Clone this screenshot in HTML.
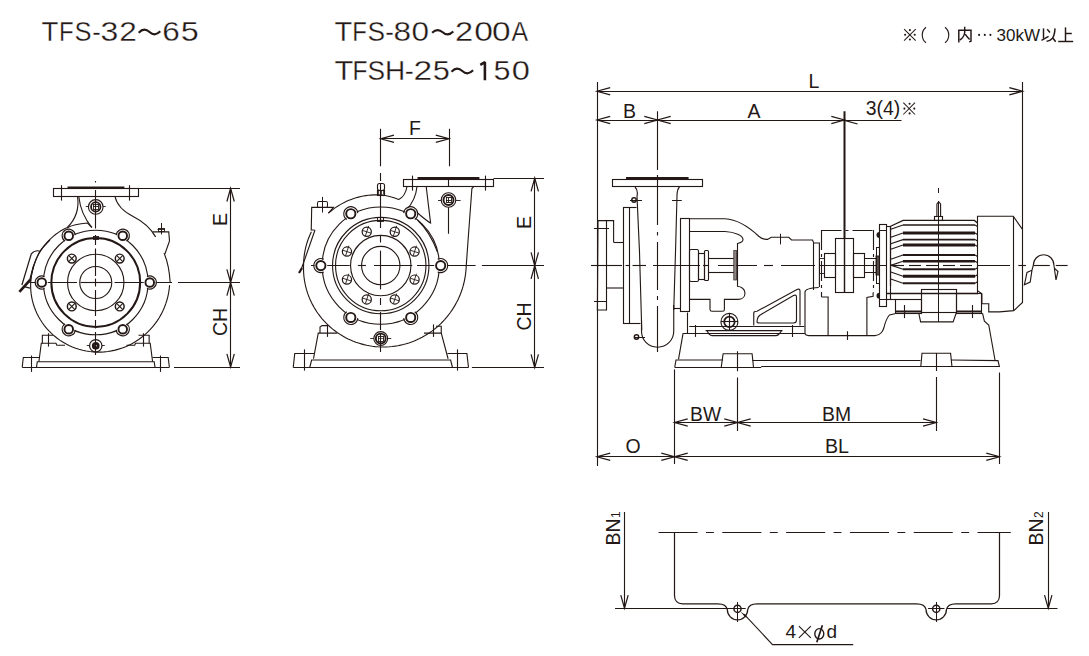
<!DOCTYPE html>
<html><head><meta charset="utf-8"><style>
html,body{margin:0;padding:0;background:#fff;}
body{width:1089px;height:656px;overflow:hidden;}
svg{display:block;}
svg text{font-family:"Liberation Sans",sans-serif;fill:#231815;stroke:none;}
</style></head><body>
<svg width="1089" height="656" viewBox="0 0 1089 656">
<g fill="none" stroke="#231815" stroke-linecap="butt" stroke-width="1.1" stroke-linejoin="miter">
<text transform="translate(41.58 41.20) scale(1.020 1.000)" font-size="27" style="stroke:#fff;stroke-width:0.3px">T</text>
<text transform="translate(58.93 41.20) scale(0.886 1.000)" font-size="27" style="stroke:#fff;stroke-width:0.3px">F</text>
<text transform="translate(74.46 41.20) scale(0.944 1.000)" font-size="27" style="stroke:#fff;stroke-width:0.3px">S</text>
<text transform="translate(92.16 41.20) scale(0.943 1.000)" font-size="27" style="stroke:#fff;stroke-width:0.3px">-</text>
<text transform="translate(100.52 41.20) scale(1.185 1.000)" font-size="27" style="stroke:#fff;stroke-width:0.3px">3</text>
<text transform="translate(119.13 41.20) scale(1.169 1.000)" font-size="27" style="stroke:#fff;stroke-width:0.3px">2</text>
<text transform="translate(162.33 41.20) scale(1.169 1.000)" font-size="27" style="stroke:#fff;stroke-width:0.3px">6</text>
<text transform="translate(180.70 41.20) scale(1.200 1.000)" font-size="27" style="stroke:#fff;stroke-width:0.3px">5</text>
<path d="M138.70 32.63 C143.02 28.22 146.26 29.06 149.50 32.00 S155.98 35.78 160.30 31.37" stroke-width="2.13" />
<text transform="translate(334.43 41.20) scale(1.073 1.000)" font-size="27" style="stroke:#fff;stroke-width:0.3px">T</text>
<text transform="translate(352.13 41.20) scale(0.886 1.000)" font-size="27" style="stroke:#fff;stroke-width:0.3px">F</text>
<text transform="translate(367.62 41.20) scale(0.975 1.000)" font-size="27" style="stroke:#fff;stroke-width:0.3px">S</text>
<text transform="translate(385.24 41.20) scale(0.957 1.000)" font-size="27" style="stroke:#fff;stroke-width:0.3px">-</text>
<text transform="translate(393.53 41.20) scale(1.169 1.000)" font-size="27" style="stroke:#fff;stroke-width:0.3px">8</text>
<text transform="translate(411.43 41.20) scale(1.169 1.000)" font-size="27" style="stroke:#fff;stroke-width:0.3px">0</text>
<text transform="translate(455.09 41.20) scale(1.208 1.000)" font-size="27" style="stroke:#fff;stroke-width:0.3px">2</text>
<text transform="translate(474.25 41.20) scale(1.246 1.000)" font-size="27" style="stroke:#fff;stroke-width:0.3px">0</text>
<text transform="translate(491.96 41.20) scale(1.238 1.000)" font-size="27" style="stroke:#fff;stroke-width:0.3px">0</text>
<text transform="translate(511.40 41.20) scale(0.922 1.000)" font-size="27" style="stroke:#fff;stroke-width:0.3px">A</text>
<path d="M432.10 32.80 C436.34 28.60 439.52 29.40 442.70 32.20 S449.06 35.80 453.30 31.60" stroke-width="2.13" />
<text transform="translate(334.46 80.30) scale(1.140 1.000)" font-size="27" style="stroke:#fff;stroke-width:0.3px">T</text>
<text transform="translate(352.39 80.30) scale(0.907 1.000)" font-size="27" style="stroke:#fff;stroke-width:0.3px">F</text>
<text transform="translate(367.42 80.30) scale(0.975 1.000)" font-size="27" style="stroke:#fff;stroke-width:0.3px">S</text>
<text transform="translate(385.03 80.30) scale(1.037 1.000)" font-size="27" style="stroke:#fff;stroke-width:0.3px">H</text>
<text transform="translate(404.80 80.30) scale(1.000 1.000)" font-size="27" style="stroke:#fff;stroke-width:0.3px">-</text>
<text transform="translate(413.55 80.30) scale(1.246 1.000)" font-size="27" style="stroke:#fff;stroke-width:0.3px">2</text>
<text transform="translate(432.86 80.30) scale(1.138 1.000)" font-size="27" style="stroke:#fff;stroke-width:0.3px">5</text>
<text transform="translate(493.57 80.30) scale(1.131 1.000)" font-size="27" style="stroke:#fff;stroke-width:0.3px">5</text>
<text transform="translate(511.79 80.30) scale(1.208 1.000)" font-size="27" style="stroke:#fff;stroke-width:0.3px">0</text>
<path d="M451.50 71.63 C455.82 67.22 459.06 68.06 462.30 71.00 S468.78 74.78 473.10 70.37" stroke-width="2.13" />
<path d="M480.3 64.9 C482 64 483.5 63 484.9 62.2 L484.9 80.2" stroke-width="2.58" stroke-linejoin="bevel"/>
<line x1="597.50" y1="82.00" x2="597.50" y2="466.00" stroke-width="1.12" />
<line x1="1022.50" y1="82.00" x2="1022.50" y2="229.00" stroke-width="1.12" />
<line x1="597.00" y1="91.50" x2="1022.50" y2="91.50" stroke-width="1.12" />
<path d="M610.20 87.55 L597.00 91.25 L610.20 94.95" stroke-width="1.23" />
<path d="M1009.30 94.95 L1022.50 91.25 L1009.30 87.55" stroke-width="1.23" />
<text x="814.00" y="87.50" font-size="19.5" text-anchor="middle" >L</text>
<line x1="597.00" y1="120.50" x2="657.50" y2="120.50" stroke-width="1.12" />
<path d="M610.20 116.30 L597.00 120.00 L610.20 123.70" stroke-width="1.23" />
<path d="M644.30 123.70 L657.50 120.00 L644.30 116.30" stroke-width="1.23" />
<path d="M670.70 116.30 L657.50 120.00 L670.70 123.70" stroke-width="1.23" />
<path d="M831.30 123.70 L844.50 120.00 L831.30 116.30" stroke-width="1.23" />
<line x1="657.50" y1="120.50" x2="844.50" y2="120.50" stroke-width="1.12" />
<line x1="844.50" y1="120.50" x2="901.50" y2="120.50" stroke-width="1.12" />
<path d="M844.50 120.30 L857.60 124.00" stroke-width="1.23" />
<text x="629.50" y="118.00" font-size="19.5" text-anchor="middle" >B</text>
<text x="754.00" y="118.00" font-size="19.5" text-anchor="middle" >A</text>
<text x="865.80" y="115.30" font-size="19.5" text-anchor="start" textLength="34.5" lengthAdjust="spacingAndGlyphs" >3(4)</text>
<rect x="53.50" y="188.50" width="85.00" height="8.00" stroke-width="1.12" />
<line x1="67.50" y1="187.60" x2="124.40" y2="187.60" stroke-width="2.02" />
<line x1="61.50" y1="185.20" x2="61.50" y2="200.60" stroke-width="1.12" />
<line x1="129.50" y1="185.20" x2="129.50" y2="200.60" stroke-width="1.12" />
<line x1="138.10" y1="188.50" x2="240.00" y2="188.50" stroke-width="1.12" />
<line x1="230.50" y1="188.30" x2="230.50" y2="282.50" stroke-width="1.12" />
<path d="M234.30 201.50 L230.60 188.30 L226.90 201.50" stroke-width="1.23" />
<path d="M226.90 269.30 L230.60 282.50 L234.30 269.30" stroke-width="1.23" />
<line x1="230.50" y1="282.50" x2="230.50" y2="367.00" stroke-width="1.12" />
<path d="M234.30 295.70 L230.60 282.50 L226.90 295.70" stroke-width="1.23" />
<path d="M226.90 353.80 L230.60 367.00 L234.30 353.80" stroke-width="1.23" />
<line x1="174.00" y1="367.50" x2="240.00" y2="367.50" stroke-width="1.12" />
<text x="226.50" y="219.50" font-size="19.5" text-anchor="middle" transform="rotate(-90 226.50 219.50)" >E</text>
<text x="226.50" y="322.00" font-size="19.5" text-anchor="middle" transform="rotate(-90 226.50 322.00)" >CH</text>
<line x1="29.40" y1="282.50" x2="77.00" y2="282.50" stroke-width="1.12" />
<line x1="80.50" y1="282.50" x2="111.00" y2="282.50" stroke-width="1.12" />
<line x1="114.50" y1="282.50" x2="172.00" y2="282.50" stroke-width="1.12" />
<line x1="178.00" y1="282.50" x2="240.00" y2="282.50" stroke-width="1.12" />
<line x1="95.50" y1="190.00" x2="95.50" y2="228.50" stroke-width="1.12" />
<line x1="95.50" y1="235.00" x2="95.50" y2="245.00" stroke-width="1.12" />
<line x1="95.50" y1="248.50" x2="95.50" y2="276.00" stroke-width="1.12" />
<line x1="95.50" y1="278.50" x2="95.50" y2="286.50" stroke-width="1.12" />
<line x1="95.50" y1="290.00" x2="95.50" y2="316.00" stroke-width="1.12" />
<line x1="95.50" y1="320.00" x2="95.50" y2="328.50" stroke-width="1.12" />
<line x1="95.50" y1="332.00" x2="95.50" y2="355.00" stroke-width="1.12" />
<line x1="95.50" y1="181.00" x2="95.50" y2="182.50" stroke-width="1.12" />
<circle cx="95.75" cy="206.90" r="7.30" stroke-width="1.12" />
<circle cx="95.75" cy="206.90" r="4.70" stroke-width="1.79" />
<rect x="93.50" y="204.50" width="5.00" height="5.00" stroke-width="0.90" />
<line x1="93.25" y1="206.50" x2="98.25" y2="206.50" stroke-width="0.90" />
<line x1="85.75" y1="206.50" x2="88.45" y2="206.50" stroke-width="0.90" />
<line x1="103.05" y1="206.50" x2="105.75" y2="206.50" stroke-width="0.90" />
<path d="M77.5 196.5 C79 206 77 218 66.9 228" stroke-width="1.12" />
<path d="M78.8 196.5 C80 208 84 218 91.9 227.5" stroke-width="1.12" />
<path d="M66.9 228 C72 225 80 223.5 87.5 223 L91.9 227.5" stroke-width="1.12" />
<path d="M66.64 227.76 L63.74 229.23 L60.91 230.85 L58.17 232.63 L55.51 234.55 L52.96 236.61 L50.51 238.81 L48.17 241.14 L45.96 243.60 L43.87 246.17 L41.91 248.86 L40.09 251.65 L38.42 254.54 L36.90 257.52 L35.53 260.58 L34.32 263.72 L33.28 266.92 L32.41 270.19 L31.70 273.50 L31.17 276.85 L30.81 280.23 L30.64 283.64 L30.64 287.05 L30.82 290.47 L31.17 293.89 L31.71 297.28 L32.43 300.66 L33.33 303.99 L34.40 307.29 L35.65 310.53 L37.07 313.70 L38.65 316.81 L40.40 319.83 L42.31 322.77 L44.38 325.60 L46.60 328.34 L48.96 330.95 L51.46 333.45 L54.10 335.81 L56.86 338.04 L59.74 340.13 L62.73 342.06 L65.83 343.84 L69.02 345.46 L72.31 346.91 L75.67 348.19 L79.09 349.30 L82.59 350.23 L86.13 350.97 L89.71 351.53 L93.33 351.90 L96.96 352.08 L100.61 352.07 L104.27 351.87 L107.91 351.47 L111.54 350.89 L115.14 350.11 L118.70 349.14 L122.21 347.99 L125.66 346.65 L129.05 345.13 L132.36 343.42 L135.58 341.55 L138.70 339.50 L141.72 337.29 L144.63 334.92 L147.41 332.39 L150.07 329.72 L152.58 326.90 L154.95 323.95 L157.16 320.87 L159.22 317.68 L161.10 314.38 L162.82 310.97 L164.36 307.47 L165.71 303.89 L166.88 300.24 L167.86 296.52 L168.64 292.74 L169.22 288.93 L169.61 285.08" stroke-width="1.12" />
<path d="M115 196.5 C117 206 124 212 134 217 C142 221 150 227 155.6 236.9" stroke-width="1.12" />
<path d="M153.00 231.90 L168.75 231.90 L169.50 241.00 L165.00 253.70" stroke-width="1.12" />
<path d="M164 253 C168 262 169.5 272 170.2 282.5" stroke-width="1.12" />
<line x1="161.50" y1="223.00" x2="161.50" y2="234.40" stroke-width="1.01" />
<line x1="157.50" y1="229.50" x2="165.00" y2="229.50" stroke-width="0.90" />
<rect x="158.50" y="228.50" width="6.00" height="3.00" stroke-width="0.90" />
<circle cx="95.75" cy="282.50" r="52.30" stroke-width="1.12" />
<circle cx="149.75" cy="282.50" r="6.00" stroke-width="0.00" fill="#fff" stroke="none"/>
<path d="M146.96 276.52 A6.6 6.6 0 1 1 146.96 288.48" stroke-width="1.12" />
<circle cx="149.75" cy="282.50" r="4.30" stroke-width="1.90" />
<circle cx="122.75" cy="329.27" r="6.00" stroke-width="0.00" fill="#fff" stroke="none"/>
<path d="M126.54 323.86 A6.6 6.6 0 1 1 116.18 329.84" stroke-width="1.12" />
<circle cx="122.75" cy="329.27" r="4.30" stroke-width="1.90" />
<circle cx="68.75" cy="329.27" r="6.00" stroke-width="0.00" fill="#fff" stroke="none"/>
<path d="M75.32 329.84 A6.6 6.6 0 1 1 64.96 323.86" stroke-width="1.12" />
<circle cx="68.75" cy="329.27" r="4.30" stroke-width="1.90" />
<circle cx="41.75" cy="282.50" r="6.00" stroke-width="0.00" fill="#fff" stroke="none"/>
<path d="M44.54 288.48 A6.6 6.6 0 1 1 44.54 276.52" stroke-width="1.12" />
<circle cx="41.75" cy="282.50" r="4.30" stroke-width="1.90" />
<circle cx="68.75" cy="235.73" r="6.00" stroke-width="0.00" fill="#fff" stroke="none"/>
<path d="M64.96 241.14 A6.6 6.6 0 1 1 75.32 235.16" stroke-width="1.12" />
<circle cx="68.75" cy="235.73" r="4.30" stroke-width="1.90" />
<circle cx="122.75" cy="235.73" r="6.00" stroke-width="0.00" fill="#fff" stroke="none"/>
<path d="M116.18 235.16 A6.6 6.6 0 1 1 126.54 241.14" stroke-width="1.12" />
<circle cx="122.75" cy="235.73" r="4.30" stroke-width="1.90" />
<circle cx="95.75" cy="282.50" r="44.40" stroke-width="2.02" />
<circle cx="95.75" cy="282.50" r="28.20" stroke-width="1.12" />
<circle cx="95.75" cy="282.50" r="16.00" stroke-width="1.12" />
<circle cx="119.72" cy="306.47" r="4.40" stroke-width="1.46" />
<line x1="116.62" y1="303.37" x2="122.82" y2="309.57" stroke-width="1.12" />
<line x1="116.62" y1="309.57" x2="122.82" y2="303.37" stroke-width="1.12" />
<circle cx="71.78" cy="306.47" r="4.40" stroke-width="1.46" />
<line x1="68.68" y1="303.37" x2="74.88" y2="309.57" stroke-width="1.12" />
<line x1="68.68" y1="309.57" x2="74.88" y2="303.37" stroke-width="1.12" />
<circle cx="71.78" cy="258.53" r="4.40" stroke-width="1.46" />
<line x1="68.68" y1="255.43" x2="74.88" y2="261.63" stroke-width="1.12" />
<line x1="68.68" y1="261.63" x2="74.88" y2="255.43" stroke-width="1.12" />
<circle cx="119.72" cy="258.53" r="4.40" stroke-width="1.46" />
<line x1="116.62" y1="255.43" x2="122.82" y2="261.63" stroke-width="1.12" />
<line x1="116.62" y1="261.63" x2="122.82" y2="255.43" stroke-width="1.12" />
<rect x="93.50" y="236.50" width="5.00" height="3.00" stroke-width="0.90" />
<path d="M40 251.3 C38 250.5 34 250.5 31.3 253.8 L21.9 285" stroke-width="1.23" />
<path d="M33.75 265 L30 278.75" stroke-width="1.12" />
<path d="M50 240 C45 245 42 248 40 251.3 C36 258 33 266 30.6 280" stroke-width="1.12" />
<line x1="30.60" y1="279.40" x2="19.40" y2="291.90" stroke-width="2.69" />
<path d="M25.00 286.90 L30.00 288.10" stroke-width="1.12" />
<line x1="22.20" y1="367.50" x2="169.40" y2="367.50" stroke-width="1.12" />
<path d="M22.20 367.20 L23.30 357.50 L39.50 357.50" stroke-width="1.12" />
<path d="M169.40 367.20 L168.20 357.50 L152.50 357.50" stroke-width="1.12" />
<path d="M38.90 361.70 L41.30 343.20 L56.00 343.20 L56.80 345.20 L65.00 345.20" stroke-width="1.12" />
<path d="M42.35 343.20 L42.35 335.30 L53.00 335.30" stroke-width="1.12" />
<path d="M152.60 361.70 L150.20 343.20 L135.50 343.20 L134.70 345.20 L126.50 345.20" stroke-width="1.12" />
<path d="M149.15 343.20 L149.15 335.30 L138.50 335.30" stroke-width="1.12" />
<path d="M36.50 367.20 L37.30 361.70 L154.20 361.70 L155.00 367.20" stroke-width="1.12" />
<line x1="31.50" y1="355.50" x2="31.50" y2="371.90" stroke-width="1.12" />
<line x1="160.50" y1="355.50" x2="160.50" y2="371.90" stroke-width="1.12" />
<line x1="48.50" y1="333.20" x2="48.50" y2="346.60" stroke-width="1.12" />
<line x1="143.50" y1="333.20" x2="143.50" y2="346.60" stroke-width="1.12" />
<circle cx="95.75" cy="345.80" r="6.20" stroke-width="1.23" />
<circle cx="95.75" cy="345.80" r="2.40" stroke-width="2.91" />
<line x1="86.75" y1="345.50" x2="89.55" y2="345.50" stroke-width="0.90" />
<line x1="101.95" y1="345.50" x2="104.75" y2="345.50" stroke-width="0.90" />
<line x1="380.50" y1="128.75" x2="380.50" y2="166.25" stroke-width="1.12" />
<line x1="449.50" y1="128.75" x2="449.50" y2="166.25" stroke-width="1.12" />
<line x1="380.75" y1="138.50" x2="449.00" y2="138.50" stroke-width="1.12" />
<path d="M393.95 135.05 L380.75 138.75 L393.95 142.45" stroke-width="1.23" />
<path d="M435.80 142.45 L449.00 138.75 L435.80 135.05" stroke-width="1.23" />
<text x="415.00" y="134.50" font-size="19.5" text-anchor="middle" >F</text>
<line x1="380.50" y1="173.00" x2="380.50" y2="181.00" stroke-width="1.12" />
<line x1="380.50" y1="184.00" x2="380.50" y2="195.00" stroke-width="1.12" />
<line x1="380.50" y1="195.00" x2="380.50" y2="228.00" stroke-width="1.12" />
<line x1="380.50" y1="235.00" x2="380.50" y2="242.50" stroke-width="1.12" />
<line x1="380.50" y1="250.60" x2="380.50" y2="289.40" stroke-width="1.12" />
<line x1="380.50" y1="298.00" x2="380.50" y2="305.00" stroke-width="1.12" />
<line x1="380.50" y1="312.00" x2="380.50" y2="330.00" stroke-width="1.12" />
<line x1="380.50" y1="334.00" x2="380.50" y2="352.00" stroke-width="1.12" />
<line x1="311.00" y1="265.50" x2="349.75" y2="265.50" stroke-width="1.12" />
<line x1="357.90" y1="265.50" x2="366.00" y2="265.50" stroke-width="1.12" />
<line x1="374.00" y1="265.50" x2="412.25" y2="265.50" stroke-width="1.12" />
<line x1="417.00" y1="265.50" x2="475.60" y2="265.50" stroke-width="1.12" />
<line x1="481.90" y1="265.50" x2="544.00" y2="265.50" stroke-width="1.12" />
<rect x="403.50" y="179.50" width="90.00" height="7.00" stroke-width="1.12" />
<line x1="417.50" y1="178.10" x2="479.40" y2="178.10" stroke-width="2.02" />
<line x1="448.50" y1="179.00" x2="448.50" y2="186.90" stroke-width="1.12" />
<line x1="412.50" y1="175.60" x2="412.50" y2="190.60" stroke-width="1.12" />
<line x1="485.50" y1="175.60" x2="485.50" y2="190.60" stroke-width="1.12" />
<line x1="493.50" y1="178.50" x2="544.00" y2="178.50" stroke-width="1.12" />
<line x1="534.50" y1="178.10" x2="534.50" y2="265.60" stroke-width="1.12" />
<path d="M538.45 191.30 L534.75 178.10 L531.05 191.30" stroke-width="1.23" />
<path d="M531.05 252.40 L534.75 265.60 L538.45 252.40" stroke-width="1.23" />
<line x1="534.50" y1="265.60" x2="534.50" y2="367.50" stroke-width="1.12" />
<path d="M538.45 278.80 L534.75 265.60 L531.05 278.80" stroke-width="1.23" />
<path d="M531.05 354.30 L534.75 367.50 L538.45 354.30" stroke-width="1.23" />
<line x1="471.90" y1="367.50" x2="544.00" y2="367.50" stroke-width="1.12" />
<text x="531.00" y="222.50" font-size="19.5" text-anchor="middle" transform="rotate(-90 531.00 222.50)" >E</text>
<text x="531.00" y="316.50" font-size="19.5" text-anchor="middle" transform="rotate(-90 531.00 316.50)" >CH</text>
<circle cx="448.50" cy="200.00" r="7.30" stroke-width="1.12" />
<circle cx="448.50" cy="200.00" r="5.00" stroke-width="1.90" />
<rect x="446.50" y="197.50" width="5.00" height="5.00" stroke-width="0.90" />
<line x1="446.00" y1="200.50" x2="451.00" y2="200.50" stroke-width="0.90" />
<line x1="448.50" y1="197.50" x2="448.50" y2="202.50" stroke-width="0.90" />
<line x1="438.00" y1="200.50" x2="441.20" y2="200.50" stroke-width="0.90" />
<line x1="455.80" y1="200.50" x2="460.60" y2="200.50" stroke-width="0.90" />
<line x1="448.50" y1="207.30" x2="448.50" y2="233.75" stroke-width="1.12" />
<path d="M311.36 231.76 L310.22 234.20 L309.17 236.68 L308.21 239.20 L307.33 241.74 L306.54 244.32 L305.84 246.92 L305.24 249.55 L304.72 252.19 L304.30 254.86 L303.97 257.53 L303.74 260.21 L303.60 262.91 L303.55 265.60 L303.50 268.30 L303.55 271.00 L303.70 273.70 L303.94 276.40 L304.27 279.09 L304.70 281.77 L305.22 284.43 L305.83 287.08 L306.54 289.71 L307.34 292.32 L308.23 294.90 L309.21 297.45 L310.29 299.97 L311.45 302.45 L312.69 304.89 L314.03 307.29 L315.45 309.65 L316.95 311.95 L318.53 314.21 L320.20 316.41 L321.94 318.55 L323.76 320.64 L325.65 322.66 L327.61 324.62 L329.64 326.50 L331.74 328.32 L333.91 330.07 L336.14 331.74 L338.42 333.34 L340.77 334.85 L343.16 336.29 L345.61 337.64 L348.11 338.91 L350.66 340.09 L353.24 341.18 L355.87 342.18 L358.53 343.09 L361.23 343.91 L363.95 344.63 L366.70 345.26 L369.48 345.79 L372.28 346.23 L375.09 346.57 L377.91 346.81 L380.75 346.95 L383.59 346.99 L386.44 346.94 L389.28 346.78 L392.12 346.52 L394.96 346.17 L397.78 345.71 L400.59 345.16 L403.38 344.51 L406.15 343.76 L408.89 342.91 L411.60 341.97 L414.29 340.93 L416.94 339.79 L419.55 338.57 L422.12 337.25 L424.64 335.84 L427.12 334.34 L429.54 332.76 L431.91 331.09 L434.23 329.33 L436.48 327.49 L438.67 325.58 L440.79 323.58 L442.85 321.51 L444.83 319.37 L446.74 317.16 L448.58 314.88 L450.33 312.53 L452.01 310.13 L453.60 307.66 L455.10 305.13 L456.52 302.56 L457.85 299.93 L459.08 297.25 L460.23 294.53 L461.28 291.76 L462.23 288.96 L463.08 286.13 L463.84 283.26 L464.50 280.37 L465.05 277.45 L465.51 274.51 L465.86 271.55 L466.11 268.58 L466.25 265.60" stroke-width="1.12" />
<path d="M383.21 195.20 L380.75 195.00 L378.28 194.89 L375.80 194.86 L373.32 194.92 L370.84 195.07 L368.36 195.31 L365.88 195.63 L363.41 196.04 L360.95 196.54 L358.50 197.12 L356.07 197.80 L353.66 198.55 L351.28 199.40 L348.91 200.33 L346.58 201.34 L344.28 202.44 L342.02 203.62 L339.79 204.88 L337.61 206.22 L335.46 207.64 L333.37 209.13 L331.32 210.71 L329.33 212.35 L328.35 213.20" stroke-width="1.12" />
<path d="M466.25 265.6 L468.1 240 L471.9 188.5 L473.5 187" stroke-width="1.12" />
<path d="M381 195 C388 195.5 394 197.5 398.75 199.4 C404 197 406 192 406.9 187" stroke-width="1.12" />
<path d="M416.9 187 C416 197 412 204 406.25 210" stroke-width="1.12" />
<path d="M426.25 187 L430.6 223.1 C428 222 420 215 414 210" stroke-width="1.12" />
<path d="M417.5 220 C426 228 433 240 437.5 252" stroke-width="1.12" />
<rect x="377.50" y="183.50" width="7.00" height="7.00" stroke-width="1.12" rx="2"/>
<rect x="377.50" y="190.50" width="7.00" height="5.00" stroke-width="1.12" />
<line x1="378.50" y1="190.50" x2="378.50" y2="194.60" stroke-width="0.78" />
<line x1="380.50" y1="190.50" x2="380.50" y2="194.60" stroke-width="0.78" />
<line x1="381.50" y1="190.50" x2="381.50" y2="194.60" stroke-width="0.78" />
<line x1="383.50" y1="190.50" x2="383.50" y2="194.60" stroke-width="0.78" />
<path d="M328.40 213.20 L333.50 207.40 L311.70 207.40 L311.25 230.00 L314.50 230.00" stroke-width="1.12" />
<line x1="322.50" y1="196.90" x2="322.50" y2="212.50" stroke-width="1.01" />
<rect x="317.50" y="201.50" width="10.00" height="6.00" stroke-width="1.01" rx="1.5"/>
<line x1="315.00" y1="230.00" x2="301.00" y2="270.00" stroke-width="1.12" />
<line x1="299.00" y1="273.00" x2="302.00" y2="268.00" stroke-width="2.24" />
<circle cx="380.75" cy="265.60" r="58.60" stroke-width="1.12" />
<circle cx="440.65" cy="265.60" r="6.40" stroke-width="0.00" fill="#fff" stroke="none"/>
<path d="M437.69 259.26 A7.0 7.0 0 1 1 437.69 271.94" stroke-width="1.12" />
<circle cx="440.65" cy="265.60" r="4.60" stroke-width="1.90" />
<circle cx="410.70" cy="317.47" r="6.40" stroke-width="0.00" fill="#fff" stroke="none"/>
<path d="M414.72 311.74 A7.0 7.0 0 1 1 403.73 318.09" stroke-width="1.12" />
<circle cx="410.70" cy="317.47" r="4.60" stroke-width="1.90" />
<circle cx="350.80" cy="317.47" r="6.40" stroke-width="0.00" fill="#fff" stroke="none"/>
<path d="M357.77 318.09 A7.0 7.0 0 1 1 346.78 311.74" stroke-width="1.12" />
<circle cx="350.80" cy="317.47" r="4.60" stroke-width="1.90" />
<circle cx="320.85" cy="265.60" r="6.40" stroke-width="0.00" fill="#fff" stroke="none"/>
<path d="M323.81 271.94 A7.0 7.0 0 1 1 323.81 259.26" stroke-width="1.12" />
<circle cx="320.85" cy="265.60" r="4.60" stroke-width="1.90" />
<circle cx="350.80" cy="213.73" r="6.40" stroke-width="0.00" fill="#fff" stroke="none"/>
<path d="M346.78 219.46 A7.0 7.0 0 1 1 357.77 213.11" stroke-width="1.12" />
<circle cx="350.80" cy="213.73" r="4.60" stroke-width="1.90" />
<circle cx="410.70" cy="213.73" r="6.40" stroke-width="0.00" fill="#fff" stroke="none"/>
<path d="M403.73 213.11 A7.0 7.0 0 1 1 414.72 219.46" stroke-width="1.12" />
<circle cx="410.70" cy="213.73" r="4.60" stroke-width="1.90" />
<circle cx="380.75" cy="265.60" r="48.20" stroke-width="1.12" />
<circle cx="380.75" cy="265.60" r="45.20" stroke-width="1.12" />
<circle cx="380.75" cy="265.60" r="30.20" stroke-width="1.12" />
<circle cx="380.75" cy="265.60" r="19.20" stroke-width="1.12" />
<rect x="377.50" y="217.50" width="6.00" height="4.00" stroke-width="0.90" />
<circle cx="414.56" cy="279.61" r="4.60" stroke-width="1.23" />
<line x1="413.20" y1="283.79" x2="416.48" y2="273.71" stroke-width="0.90" />
<line x1="410.38" y1="278.25" x2="418.75" y2="280.97" stroke-width="0.90" />
<circle cx="394.76" cy="299.41" r="4.60" stroke-width="1.23" />
<line x1="393.40" y1="303.60" x2="396.67" y2="293.52" stroke-width="0.90" />
<line x1="390.57" y1="298.05" x2="398.94" y2="300.77" stroke-width="0.90" />
<circle cx="366.74" cy="299.41" r="4.60" stroke-width="1.23" />
<line x1="365.38" y1="303.60" x2="368.66" y2="293.52" stroke-width="0.90" />
<line x1="362.56" y1="298.05" x2="370.93" y2="300.77" stroke-width="0.90" />
<circle cx="346.94" cy="279.61" r="4.60" stroke-width="1.23" />
<line x1="345.58" y1="283.79" x2="348.85" y2="273.71" stroke-width="0.90" />
<line x1="342.75" y1="278.25" x2="351.12" y2="280.97" stroke-width="0.90" />
<circle cx="346.94" cy="251.59" r="4.60" stroke-width="1.23" />
<line x1="345.58" y1="255.78" x2="348.85" y2="245.70" stroke-width="0.90" />
<line x1="342.75" y1="250.23" x2="351.12" y2="252.95" stroke-width="0.90" />
<circle cx="366.74" cy="231.79" r="4.60" stroke-width="1.23" />
<line x1="365.38" y1="235.97" x2="368.66" y2="225.89" stroke-width="0.90" />
<line x1="362.56" y1="230.43" x2="370.93" y2="233.15" stroke-width="0.90" />
<circle cx="394.76" cy="231.79" r="4.60" stroke-width="1.23" />
<line x1="393.40" y1="235.97" x2="396.67" y2="225.89" stroke-width="0.90" />
<line x1="390.57" y1="230.43" x2="398.94" y2="233.15" stroke-width="0.90" />
<circle cx="414.56" cy="251.59" r="4.60" stroke-width="1.23" />
<line x1="413.20" y1="255.78" x2="416.48" y2="245.70" stroke-width="0.90" />
<line x1="410.38" y1="250.23" x2="418.75" y2="252.95" stroke-width="0.90" />
<path d="M293.25 367.50 L294.75 353.50 L314.10 353.50" stroke-width="1.12" />
<path d="M468.50 367.50 L466.90 353.50 L447.50 353.50" stroke-width="1.12" />
<line x1="293.25" y1="367.50" x2="468.50" y2="367.50" stroke-width="1.12" />
<path d="M313.50 358.75 L318.25 333.10 L337.25 333.10" stroke-width="1.12" />
<path d="M448.10 358.75 L441.25 333.10 L424.00 333.10" stroke-width="1.12" />
<path d="M309.75 367.50 L311.60 360.00 L450.60 360.00 L452.50 367.50" stroke-width="1.12" />
<line x1="304.50" y1="349.40" x2="304.50" y2="370.60" stroke-width="1.12" />
<line x1="457.50" y1="349.40" x2="457.50" y2="370.60" stroke-width="1.12" />
<path d="M320.00 333.10 L320.00 327.00 L322.00 325.60 L328.00 325.60" stroke-width="1.12" />
<path d="M441.25 333.10 L441.25 326.25 L436.00 326.25" stroke-width="1.12" />
<line x1="327.50" y1="324.40" x2="327.50" y2="336.90" stroke-width="1.12" />
<line x1="433.50" y1="324.40" x2="433.50" y2="336.90" stroke-width="1.12" />
<circle cx="380.75" cy="338.50" r="6.90" stroke-width="1.12" />
<circle cx="380.75" cy="338.50" r="4.90" stroke-width="1.90" />
<rect x="378.50" y="336.50" width="5.00" height="5.00" stroke-width="0.90" />
<line x1="378.25" y1="338.50" x2="383.25" y2="338.50" stroke-width="0.67" />
<line x1="370.25" y1="338.50" x2="373.85" y2="338.50" stroke-width="0.90" />
<line x1="387.65" y1="338.50" x2="391.25" y2="338.50" stroke-width="0.90" />
<line x1="674.50" y1="369.40" x2="674.50" y2="464.00" stroke-width="1.12" />
<line x1="999.50" y1="372.50" x2="999.50" y2="464.00" stroke-width="1.12" />
<line x1="737.50" y1="351.25" x2="737.50" y2="371.25" stroke-width="1.12" />
<line x1="737.50" y1="377.50" x2="737.50" y2="431.00" stroke-width="1.12" />
<line x1="936.50" y1="353.00" x2="936.50" y2="371.00" stroke-width="1.12" />
<line x1="936.50" y1="377.00" x2="936.50" y2="431.00" stroke-width="1.12" />
<line x1="674.50" y1="422.50" x2="737.50" y2="422.50" stroke-width="1.12" />
<path d="M687.70 418.80 L674.50 422.50 L687.70 426.20" stroke-width="1.23" />
<path d="M724.30 426.20 L737.50 422.50 L724.30 418.80" stroke-width="1.23" />
<line x1="737.50" y1="422.50" x2="936.25" y2="422.50" stroke-width="1.12" />
<path d="M750.70 418.80 L737.50 422.50 L750.70 426.20" stroke-width="1.23" />
<path d="M923.05 426.20 L936.25 422.50 L923.05 418.80" stroke-width="1.23" />
<line x1="597.00" y1="456.50" x2="674.50" y2="456.50" stroke-width="1.12" />
<path d="M610.20 453.05 L597.00 456.75 L610.20 460.45" stroke-width="1.23" />
<path d="M661.30 460.45 L674.50 456.75 L661.30 453.05" stroke-width="1.23" />
<line x1="674.50" y1="456.50" x2="999.50" y2="456.50" stroke-width="1.12" />
<path d="M687.70 453.05 L674.50 456.75 L687.70 460.45" stroke-width="1.23" />
<path d="M986.30 460.45 L999.50 456.75 L986.30 453.05" stroke-width="1.23" />
<text x="705.60" y="420.60" font-size="19.5" text-anchor="middle" textLength="31" lengthAdjust="spacingAndGlyphs" >BW</text>
<text x="836.60" y="420.60" font-size="19.5" text-anchor="middle" textLength="29" lengthAdjust="spacingAndGlyphs" >BM</text>
<text x="633.00" y="453.00" font-size="19.5" text-anchor="middle" >O</text>
<text x="837.00" y="453.20" font-size="19.5" text-anchor="middle" textLength="24" lengthAdjust="spacingAndGlyphs" >BL</text>
<line x1="844.50" y1="111.25" x2="844.50" y2="238.00" stroke-width="2.02" />
<line x1="657.50" y1="111.25" x2="657.50" y2="170.00" stroke-width="1.12" />
<line x1="591.00" y1="265.50" x2="622.00" y2="265.50" stroke-width="1.12" />
<line x1="625.50" y1="265.50" x2="629.00" y2="265.50" stroke-width="1.12" />
<line x1="632.50" y1="265.50" x2="646.00" y2="265.50" stroke-width="1.12" />
<line x1="653.00" y1="265.50" x2="700.00" y2="265.50" stroke-width="1.12" />
<line x1="703.00" y1="265.50" x2="708.00" y2="265.50" stroke-width="1.12" />
<line x1="718.00" y1="265.50" x2="757.00" y2="265.50" stroke-width="1.12" />
<line x1="764.00" y1="265.50" x2="773.00" y2="265.50" stroke-width="1.12" />
<line x1="781.00" y1="265.50" x2="815.00" y2="265.50" stroke-width="1.12" />
<line x1="820.00" y1="265.50" x2="887.00" y2="265.50" stroke-width="1.12" />
<line x1="891.90" y1="265.50" x2="904.00" y2="265.50" stroke-width="1.12" />
<line x1="909.00" y1="265.50" x2="921.00" y2="265.50" stroke-width="1.12" />
<line x1="926.00" y1="265.50" x2="938.00" y2="265.50" stroke-width="1.12" />
<line x1="943.00" y1="265.50" x2="955.00" y2="265.50" stroke-width="1.12" />
<line x1="960.00" y1="265.50" x2="972.00" y2="265.50" stroke-width="1.12" />
<line x1="977.00" y1="265.50" x2="1010.00" y2="265.50" stroke-width="1.12" />
<line x1="1018.30" y1="265.50" x2="1026.00" y2="265.50" stroke-width="1.12" />
<line x1="1033.40" y1="265.50" x2="1049.80" y2="265.50" stroke-width="1.12" />
<line x1="1055.80" y1="265.50" x2="1067.60" y2="265.50" stroke-width="1.12" />
<line x1="657.50" y1="175.00" x2="657.50" y2="225.00" stroke-width="1.12" />
<line x1="657.50" y1="232.00" x2="657.50" y2="235.50" stroke-width="1.12" />
<line x1="657.50" y1="242.00" x2="657.50" y2="290.00" stroke-width="1.12" />
<line x1="657.50" y1="296.00" x2="657.50" y2="300.00" stroke-width="1.12" />
<line x1="657.50" y1="306.00" x2="657.50" y2="352.00" stroke-width="1.12" />
<rect x="612.50" y="179.50" width="90.00" height="7.00" stroke-width="1.12" />
<line x1="626.00" y1="178.10" x2="688.60" y2="178.10" stroke-width="2.02" />
<path d="M635 187 C637 189 638 192 637 196 L639.5 252 L641.75 330" stroke-width="1.12" />
<path d="M679.5 187 C677.5 189 677 192 677 196 L675.5 252 L673.75 310" stroke-width="1.12" />
<path d="M641.5 320 L641.5 331 C641.5 340 648 347.2 657.5 347.2 C667 347.2 673.75 340 673.75 331 L673.75 305" stroke-width="1.12" />
<line x1="630.00" y1="200.50" x2="642.00" y2="200.50" stroke-width="1.01" />
<line x1="672.00" y1="200.50" x2="681.75" y2="200.50" stroke-width="1.01" />
<circle cx="636.50" cy="337.00" r="2.20" stroke-width="1.46" />
<line x1="634.00" y1="337.50" x2="645.00" y2="337.50" stroke-width="1.01" />
<circle cx="634.00" cy="200.00" r="2.20" stroke-width="1.46" />
<rect x="623.50" y="207.50" width="6.00" height="116.00" stroke-width="1.12" />
<line x1="629.90" y1="207.50" x2="636.50" y2="207.50" stroke-width="1.12" />
<line x1="629.90" y1="323.50" x2="640.50" y2="323.50" stroke-width="1.12" />
<path d="M613.60 242.25 L613.60 220.60 L598.00 220.60 L597.40 310.00 L606.50 310.00 L606.50 220.60" stroke-width="1.12" />
<path d="M606.50 288.00 L623.40 288.00" stroke-width="1.12" />
<line x1="613.60" y1="242.50" x2="623.60" y2="242.50" stroke-width="1.12" />
<line x1="594.00" y1="228.50" x2="609.00" y2="228.50" stroke-width="1.01" />
<line x1="594.00" y1="301.50" x2="607.00" y2="301.50" stroke-width="1.01" />
<rect x="680.50" y="218.50" width="9.00" height="93.00" stroke-width="1.12" />
<line x1="673.50" y1="308.50" x2="680.50" y2="308.50" stroke-width="1.12" />
<path d="M689.25 218.75 L725 218.75 C738 219.5 750 228 758.75 236.25 C762 239 765 239.6 767.5 239.4 L771.25 237.25 L788.75 237.25 L791.5 240 L812.5 240 L813.75 243 L819.4 243 L819.4 287" stroke-width="1.12" />
<line x1="813.50" y1="243.00" x2="813.50" y2="290.00" stroke-width="1.12" />
<line x1="780.50" y1="233.75" x2="780.50" y2="244.40" stroke-width="1.01" />
<path d="M689.25 231.5 L725 231.5 C735 232 743 235.5 743 239.5 C743 242 740 243 737.5 243.5 L737.5 286.25 C741 286.5 745 289 745 293 C745 297 742 299.4 738 299.4 L724.4 299.4 L724.4 309.5 C724.4 310.5 723.5 311.25 722.5 311.25 L712 311.25 C711 311.25 710 310.5 710 309.5 L710 299.4 L689.25 299.4" stroke-width="1.12" />
<rect x="689.50" y="249.50" width="9.00" height="32.00" stroke-width="1.12" rx="1.5"/>
<rect x="698.50" y="253.50" width="6.00" height="26.00" stroke-width="1.12" />
<rect x="704.50" y="250.50" width="4.00" height="30.00" stroke-width="1.12" rx="1"/>
<line x1="708.75" y1="258.50" x2="733.75" y2="258.50" stroke-width="1.12" />
<line x1="708.75" y1="272.50" x2="733.75" y2="272.50" stroke-width="1.12" />
<rect x="733.80" y="250.60" width="2.80" height="29.40" stroke-width="0.67" fill="#8c8482"/>
<circle cx="729.40" cy="321.90" r="8.50" stroke-width="1.12" />
<circle cx="729.40" cy="321.90" r="5.20" stroke-width="1.79" />
<line x1="729.50" y1="313.00" x2="729.50" y2="331.00" stroke-width="1.12" />
<line x1="721.00" y1="321.50" x2="738.00" y2="321.50" stroke-width="1.12" />
<line x1="687.50" y1="312.50" x2="687.50" y2="333.00" stroke-width="1.12" />
<line x1="689.25" y1="326.50" x2="753.75" y2="326.50" stroke-width="1.12" />
<line x1="753.75" y1="326.50" x2="804.40" y2="326.50" stroke-width="1.12" />
<path d="M705.6 330.6 L782.5 330.6 M707 330.6 C708 333 709 335.6 712 335.6 L776 335.6 C779 335.6 780 333 781.5 330.6" stroke-width="1.12" />
<line x1="695.50" y1="325.00" x2="695.50" y2="336.90" stroke-width="1.12" />
<line x1="792.50" y1="325.00" x2="792.50" y2="337.00" stroke-width="1.12" />
<path d="M753.75 325.6 L753.75 313 C753.75 311.5 755 311.25 757 311.25 L797 289.5 C799 288.5 800 289.5 800 291 L800 325.6" stroke-width="1.12" />
<path d="M757 322 C757 318 758 316 761 314.5 L793.5 295.5 C795.5 294.5 796.5 295.5 796.5 297 L796.5 320 C796.5 322 795.5 323 793.5 323 L760 323 C758 323 757 322.5 757 322 Z" stroke-width="1.12" />
<line x1="683.10" y1="333.50" x2="805.00" y2="333.50" stroke-width="1.12" />
<path d="M683.10 333.10 L678.50 359.40" stroke-width="1.12" />
<path d="M674.75 367.25 L676.00 360.00 L723.10 360.00" stroke-width="1.12" />
<line x1="674.75" y1="367.50" x2="761.25" y2="367.50" stroke-width="1.12" />
<line x1="761.25" y1="366.50" x2="999.50" y2="366.50" stroke-width="1.12" />
<path d="M721.25 367.25 L723.10 353.75 L752.10 353.75 L753.50 367.25" stroke-width="1.12" />
<line x1="752.50" y1="360.50" x2="920.50" y2="360.50" stroke-width="1.12" />
<path d="M920.75 367.00 L922.00 353.25 L950.60 353.25 L952.00 367.00" stroke-width="1.12" />
<path d="M951.00 360.00 L998.00 360.60 L999.50 367.00" stroke-width="1.12" />
<path d="M818.75 287.5 C810 288 805 289.5 805 292 L805 333.1 C805 335 806.5 335.6 808.75 335.6 L875 335.6 C880 335.6 883 331 884 327.5 C885 323 887 318 889.4 315 L895 313.75" stroke-width="1.12" />
<path d="M982.50 313.10 L984.40 321.25 L988.75 325.00 L995.00 360.00" stroke-width="1.12" />
<line x1="847.50" y1="331.25" x2="847.50" y2="340.00" stroke-width="1.12" />
<path d="M821.5 297 L828.1 297 L828.1 335.6" stroke-width="1.12" />
<path d="M873.1 292.5 L873.1 296.25 L866.9 297.5 L866.9 335.6" stroke-width="1.12" />
<line x1="821.50" y1="230.50" x2="873.10" y2="230.50" stroke-width="1.12" stroke-dasharray="20 4 3 4"/>
<line x1="821.50" y1="230.00" x2="821.50" y2="297.00" stroke-width="1.12" stroke-dasharray="20 4 3 4"/>
<line x1="873.50" y1="230.00" x2="873.50" y2="292.50" stroke-width="1.12" stroke-dasharray="20 4 3 4"/>
<rect x="835.50" y="238.50" width="18.00" height="54.00" stroke-width="1.12" />
<line x1="844.50" y1="238.00" x2="844.50" y2="292.50" stroke-width="1.46" />
<rect x="824.50" y="253.50" width="11.00" height="24.00" stroke-width="1.12" />
<rect x="853.50" y="253.50" width="11.00" height="24.00" stroke-width="1.12" />
<rect x="819.50" y="258.50" width="5.00" height="15.00" stroke-width="0.90" />
<rect x="864.50" y="258.50" width="12.00" height="14.00" stroke-width="1.01" />
<rect x="876.00" y="256.00" width="3.40" height="19.00" stroke-width="0.90" fill="#5a4f4c"/>
<rect x="879.50" y="224.50" width="7.00" height="82.00" stroke-width="1.12" />
<line x1="879.50" y1="230.50" x2="886.25" y2="230.50" stroke-width="1.01" />
<line x1="879.50" y1="299.50" x2="886.25" y2="299.50" stroke-width="1.01" />
<rect x="876.50" y="247.50" width="3.00" height="36.00" stroke-width="1.01" />
<line x1="886.25" y1="226.50" x2="890.60" y2="226.50" stroke-width="1.12" />
<line x1="890.50" y1="226.00" x2="890.50" y2="300.00" stroke-width="1.12" />
<path d="M879.5 232 A3 3 0 0 0 879.5 238 Z" fill="#231815" stroke="none"/>
<path d="M879.5 292.7 A3 3 0 0 0 879.5 298.7 Z" fill="#231815" stroke="none"/>
<path d="M890.60 226.25 L903.10 220.40 L974.40 220.40 L977.50 223.10" stroke-width="1.34" />
<line x1="886.25" y1="293.50" x2="978.00" y2="293.50" stroke-width="1.34" />
<line x1="886.25" y1="299.50" x2="895.60" y2="299.50" stroke-width="1.12" />
<line x1="903.00" y1="225.00" x2="975.00" y2="225.00" stroke-width="1.57" />
<line x1="975.00" y1="225.00" x2="977.50" y2="226.50" stroke-width="1.12" />
<line x1="890.80" y1="229.20" x2="903.00" y2="225.00" stroke-width="1.12" />
<line x1="903.00" y1="233.00" x2="975.00" y2="233.00" stroke-width="3.14" />
<line x1="975.00" y1="233.00" x2="977.50" y2="234.50" stroke-width="1.12" />
<line x1="890.80" y1="237.20" x2="903.00" y2="233.00" stroke-width="1.12" />
<line x1="903.00" y1="239.60" x2="975.00" y2="239.60" stroke-width="1.57" />
<line x1="975.00" y1="239.60" x2="977.50" y2="241.10" stroke-width="1.12" />
<line x1="890.80" y1="243.80" x2="903.00" y2="239.60" stroke-width="1.12" />
<line x1="903.00" y1="245.00" x2="975.00" y2="245.00" stroke-width="3.14" />
<line x1="975.00" y1="245.00" x2="977.50" y2="246.50" stroke-width="1.12" />
<line x1="890.80" y1="249.20" x2="903.00" y2="245.00" stroke-width="1.12" />
<line x1="903.00" y1="255.00" x2="975.00" y2="255.00" stroke-width="2.13" />
<line x1="975.00" y1="255.00" x2="977.50" y2="256.50" stroke-width="1.12" />
<line x1="890.80" y1="259.20" x2="903.00" y2="255.00" stroke-width="1.12" />
<line x1="903.00" y1="261.20" x2="975.00" y2="261.20" stroke-width="2.46" />
<line x1="975.00" y1="261.20" x2="977.50" y2="262.70" stroke-width="1.12" />
<line x1="890.80" y1="265.40" x2="903.00" y2="261.20" stroke-width="1.12" />
<line x1="903.00" y1="269.30" x2="975.00" y2="269.30" stroke-width="2.13" />
<line x1="975.00" y1="269.30" x2="977.50" y2="267.80" stroke-width="1.12" />
<line x1="890.80" y1="265.10" x2="903.00" y2="269.30" stroke-width="1.12" />
<line x1="903.00" y1="276.20" x2="975.00" y2="276.20" stroke-width="3.14" />
<line x1="975.00" y1="276.20" x2="977.50" y2="274.70" stroke-width="1.12" />
<line x1="890.80" y1="272.00" x2="903.00" y2="276.20" stroke-width="1.12" />
<line x1="903.00" y1="283.20" x2="975.00" y2="283.20" stroke-width="2.02" />
<line x1="975.00" y1="283.20" x2="977.50" y2="281.70" stroke-width="1.12" />
<line x1="890.80" y1="279.00" x2="903.00" y2="283.20" stroke-width="1.12" />
<line x1="890.50" y1="226.00" x2="890.50" y2="286.00" stroke-width="1.23" />
<path d="M936.9 216.25 L936.9 204 L938.75 201.9 L940.6 204 L940.6 216.25" stroke-width="1.12" />
<rect x="934.50" y="216.50" width="8.00" height="4.00" stroke-width="1.12" />
<line x1="938.50" y1="188.00" x2="938.50" y2="193.00" stroke-width="1.01" />
<line x1="938.50" y1="201.00" x2="938.50" y2="322.00" stroke-width="1.01" />
<path d="M977.5 293.75 L977.5 216.3 L1013.25 216.3 L1022.5 229.5 L1022.5 302.5 L1013.75 310.6 L999.4 311.9 L988.75 311.9 L988.75 303.75 L981.9 303.75 L981.9 293.75 L977.5 290.6" stroke-width="1.12" />
<line x1="1013.50" y1="216.30" x2="1013.50" y2="310.60" stroke-width="1.12" />
<path d="M1033.4 265 A10.25 10.25 0 0 1 1053.9 265" stroke-width="1.12" />
<path d="M1033.4 265 L1032 270.2 L1027 272.5 L1024.4 284.8 L1030.2 282 L1032 270.2" stroke-width="1.12" />
<path d="M1053.9 265 L1056 279.8 L1058 271.5 L1054.6 268.4" stroke-width="1.12" />
<rect x="895.50" y="299.50" width="26.00" height="14.00" stroke-width="1.12" />
<rect x="956.50" y="293.50" width="25.00" height="20.00" stroke-width="1.12" />
<line x1="895.60" y1="311.50" x2="921.25" y2="311.50" stroke-width="2.02" />
<line x1="956.25" y1="311.50" x2="981.90" y2="311.50" stroke-width="2.02" />
<rect x="921.50" y="289.50" width="35.00" height="23.00" stroke-width="1.12" />
<path d="M918.75 313.00 L920.60 321.90 L953.10 321.90 L956.25 313.00" stroke-width="1.12" />
<line x1="904.50" y1="305.00" x2="904.50" y2="318.10" stroke-width="1.12" />
<line x1="972.50" y1="305.00" x2="972.50" y2="318.10" stroke-width="1.12" />
<line x1="624.50" y1="512.00" x2="624.50" y2="608.25" stroke-width="1.12" />
<path d="M620.80 595.05 L624.50 608.25 L628.20 595.05" stroke-width="1.23" />
<line x1="615.00" y1="608.50" x2="730.00" y2="608.50" stroke-width="1.12" />
<line x1="1048.50" y1="512.00" x2="1048.50" y2="608.25" stroke-width="1.12" />
<path d="M1044.55 595.05 L1048.25 608.25 L1051.95 595.05" stroke-width="1.23" />
<line x1="947.00" y1="608.50" x2="1057.50" y2="608.50" stroke-width="1.12" />
<line x1="658.50" y1="532.50" x2="1010.80" y2="532.50" stroke-width="1.12" stroke-dasharray="39.1 8.4 7.9 8.4"/>
<text x="620.3" y="545.5" font-size="19.5" transform="rotate(-90 620.3 545.5)">BN<tspan font-size="12" dx="0.5">1</tspan></text>
<text x="1042.5" y="545.5" font-size="19.5" transform="rotate(-90 1042.5 545.5)">BN<tspan font-size="12" dx="0.5">2</tspan></text>
<path d="M674.5 532.5 L674.5 595.5 C674.5 600.5 677.5 603.8 682.5 603.8 L717.90 603.8 C722.50 603.8 726.50 605.5 727.30 609.6 A10.2 10.2 0 0 0 747.70 609.6 C748.50 605.5 752.50 603.8 757.10 603.8 L916.65 603.8 C921.25 603.8 925.25 605.5 926.05 609.6 A10.2 10.2 0 0 0 946.45 609.6 C947.25 605.5 951.25 603.8 955.85 603.8 L991.5 603.8 C996.5 603.8 999.5 600.5 999.5 595.5 L999.5 532.5" stroke-width="1.23" />
<circle cx="737.50" cy="608.80" r="3.60" stroke-width="1.46" />
<line x1="737.50" y1="602.00" x2="737.50" y2="622.00" stroke-width="1.01" />
<line x1="729.20" y1="608.50" x2="745.70" y2="608.50" stroke-width="1.01" />
<circle cx="936.25" cy="608.80" r="3.60" stroke-width="1.46" />
<line x1="936.50" y1="602.00" x2="936.50" y2="622.00" stroke-width="1.01" />
<line x1="927.95" y1="608.50" x2="944.45" y2="608.50" stroke-width="1.01" />
<path d="M744.00 614.20 L772.50 644.60 L853.20 644.60" stroke-width="1.12" />
<path d="M740.4 611.6 L746.9 616.0 L745.3 617.6 Z" fill="#231815" stroke="none"/>
<text x="785.60" y="637.90" font-size="19" text-anchor="start" >4</text>
<line x1="798.90" y1="626.20" x2="810.80" y2="637.80" stroke-width="1.12" />
<line x1="810.80" y1="626.20" x2="798.90" y2="637.80" stroke-width="1.12" />
<ellipse cx="819.3" cy="633.8" rx="4.5" ry="5.2" stroke-width="1.4"/>
<line x1="822.40" y1="625.30" x2="816.80" y2="642.30" stroke-width="1.68" />
<text x="826.60" y="638.00" font-size="19" text-anchor="start" >d</text>
<line x1="904.10" y1="29.10" x2="915.70" y2="40.70" stroke-width="1.01" />
<line x1="915.70" y1="29.10" x2="904.10" y2="40.70" stroke-width="1.01" />
<circle cx="909.90" cy="30.10" r="1.05" stroke-width="0.00" fill="#231815" stroke="none"/>
<circle cx="909.90" cy="39.50" r="1.05" stroke-width="0.00" fill="#231815" stroke="none"/>
<circle cx="905.10" cy="34.80" r="1.05" stroke-width="0.00" fill="#231815" stroke="none"/>
<circle cx="914.70" cy="34.80" r="1.05" stroke-width="0.00" fill="#231815" stroke="none"/>
<path d="M926 27.2 C921 31 921 39 926 42.8" stroke-width="1.12" />
<path d="M945 27.2 C950 31 950 39 945 42.8" stroke-width="1.12" />
<path d="M958.80 42.50 L958.80 30.20 L971.00 30.20 L971.00 41.30 L969.20 41.90" stroke-width="1.46" />
<path d="M964.7 26.8 L964.7 32.5 C964.2 36 962.5 38.5 959.6 40.2" stroke-width="1.46" />
<path d="M965.2 34.2 C966.5 36.2 968 38 969.6 39.6" stroke-width="1.46" />
<circle cx="979.10" cy="34.90" r="1.05" stroke-width="0.00" fill="#231815" stroke="none"/>
<circle cx="984.80" cy="34.90" r="1.05" stroke-width="0.00" fill="#231815" stroke="none"/>
<circle cx="990.40" cy="34.90" r="1.05" stroke-width="0.00" fill="#231815" stroke="none"/>
<text x="996.50" y="41.20" font-size="16.8" text-anchor="start" textLength="43.5" lengthAdjust="spacingAndGlyphs" >30kW</text>
<line x1="1043.50" y1="28.40" x2="1043.50" y2="38.60" stroke-width="1.46" />
<line x1="1041.50" y1="40.30" x2="1048.60" y2="36.40" stroke-width="1.46" />
<line x1="1047.20" y1="29.30" x2="1050.00" y2="32.50" stroke-width="1.46" />
<path d="M1055 28.4 C1054.8 33 1054 36 1052.5 38.2 C1051 40 1049 41 1046.5 41.4" stroke-width="1.46" />
<line x1="1053.00" y1="38.20" x2="1055.70" y2="41.70" stroke-width="1.46" />
<line x1="1065.50" y1="27.40" x2="1065.50" y2="41.10" stroke-width="1.46" />
<line x1="1065.35" y1="33.50" x2="1071.80" y2="33.50" stroke-width="1.46" />
<line x1="1058.20" y1="41.50" x2="1073.20" y2="41.50" stroke-width="1.46" />
<line x1="903.30" y1="102.70" x2="915.00" y2="114.50" stroke-width="1.01" />
<line x1="915.00" y1="102.70" x2="903.30" y2="114.50" stroke-width="1.01" />
<circle cx="909.60" cy="103.80" r="1.05" stroke-width="0.00" fill="#231815" stroke="none"/>
<circle cx="909.60" cy="113.40" r="1.05" stroke-width="0.00" fill="#231815" stroke="none"/>
<circle cx="904.40" cy="108.60" r="1.05" stroke-width="0.00" fill="#231815" stroke="none"/>
<circle cx="914.30" cy="108.60" r="1.05" stroke-width="0.00" fill="#231815" stroke="none"/>
</g></svg></body></html>
